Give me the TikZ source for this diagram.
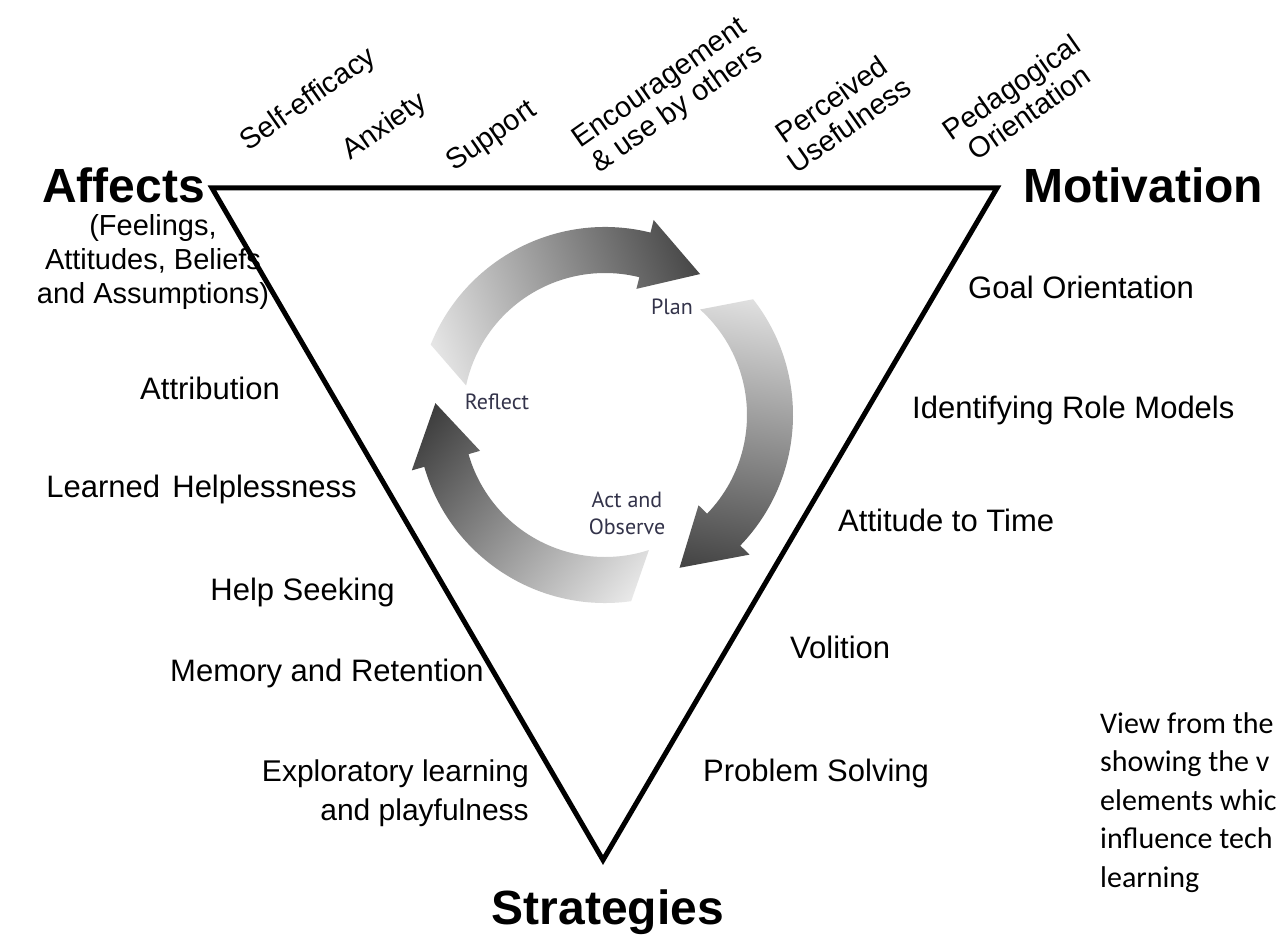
\documentclass[tikz,border=0pt]{standalone}
\usepackage{fontspec}
\setmainfont{Liberation Sans}
\newfontfamily\cycfont{PT Sans}
\newfontfamily\notefont{Carlito}
\usetikzlibrary{calc}
\definecolor{lightg}{HTML}{EEEEEE}
\definecolor{darkg}{HTML}{3A3A3A}
\definecolor{cyctext}{HTML}{33334A}
\pgfdeclareverticalshading{cycshade}{100bp}{color(0bp)=(lightg); color(18bp)=(lightg); color(82bp)=(darkg); color(100bp)=(darkg)}
\tikzset{
  title/.style={font=\fontsize{48}{56}\selectfont\bfseries, inner sep=0pt},
  lbl/.style={font=\fontsize{31}{37}\selectfont, inner sep=0pt},
  toplbl/.style={font=\fontsize{29}{31}\selectfont, inner sep=0pt, rotate=35, align=center},
  cyc/.style={font=\cycfont\fontsize{22}{27}\selectfont, text=cyctext, inner sep=0pt, align=center},
  note/.style={font=\notefont\fontsize{30}{38.5}\selectfont, inner sep=0pt, align=left},
  triedge/.style={line width=5pt, line join=miter, draw=black},
}
\newcommand\cycarrow[2]{%
  \shade[shading=cycshade, shading angle=#2]
   ($(C)+({158-#1}:188pt)$) arc[start angle={158-#1}, end angle={76-#1}, radius=188pt]
   -- ($(C)+({76-#1}:201pt)$) -- ($(C)+({56-#1}:170pt)$) -- ($(C)+({76-#1}:130pt)$)
   -- ($(C)+({76-#1}:142pt)$) arc[start angle={76-#1}, end angle={168-#1}, radius=142pt] -- cycle;}
\begin{document}
\begin{tikzpicture}[x=1pt,y=1pt]
\useasboundingbox (0,0) rectangle (1279,-936);
\clip (0,0) rectangle (1279,-936);
\fill[white] (0,0) rectangle (1279,-936);

% triangle
\coordinate (A) at (212,-188);
\coordinate (M) at (997,-188);
\coordinate (S) at (603,-860);
\draw[triedge] (A) -- (M) -- (S) -- cycle;

% cycle
\coordinate (C) at (605,-415);
\cycarrow{0}{-70}
\cycarrow{120}{170}
\cycarrow{240}{50}
\node[cyc] (plan) at (672,-307) {Plan};
\node[cyc] (reflect) at (497,-402) {Reflect};
\node[cyc] (act) at (627,-513) {Act and\\Observe};

% corner titles
\node[title, anchor=base east] (affects) at (205,-203) {Affects};
\node[lbl, font=\fontsize{29}{34}\selectfont, align=center, anchor=north] (feel) at (153,-214) {(Feelings,\\Attitudes, Beliefs\\and Assumptions)};
\node[title, anchor=base west] (motiv) at (1023,-203) {Motivation};
\node[title, anchor=base] (strat) at (608,-924) {Strategies};

% top labels
\node[toplbl] (selfeff) at (309,-100) {Self-efficacy};
\node[toplbl] (anx) at (385,-127) {Anxiety};
\node[toplbl] (supp) at (492,-137) {Support};
\node[toplbl] (enc) at (669,-97) {Encouragement\\\& use by others};
\node[toplbl] (perc) at (840,-112) {Perceived\\Usefulness};
\node[toplbl] (ped) at (1020,-100) {Pedagogical\\Orientation};

% right labels
\node[lbl, anchor=west] (goal) at (968,-287) {Goal Orientation};
\node[lbl, anchor=west] (role) at (912,-410) {Identifying Role Models};
\node[lbl, anchor=west] (time) at (838,-520) {Attitude to Time};
\node[lbl, anchor=west] (vol) at (790,-647) {Volition};
\node[lbl, anchor=west] (prob) at (703,-773) {Problem Solving};

% left labels
\node[lbl] (attr) at (210,-388) {Attribution};
\node[lbl, anchor=east] (learned) at (357,-489) {Learned\hspace{0.12em} Helplessness};
\node[lbl, anchor=east] (help) at (395,-592) {Help Seeking};
\node[lbl, anchor=east] (mem) at (484,-673) {Memory and Retention};
\node[lbl, align=right, anchor=north east, font=\fontsize{30}{39}\selectfont] (expl) at (529,-760) {Exploratory learning\\and playfulness};

% note
\node[note, anchor=north west] (note) at (1100,-712) {View from the\\showing the v\\elements whic\\influence tech\\learning};
\end{tikzpicture}
\end{document}
